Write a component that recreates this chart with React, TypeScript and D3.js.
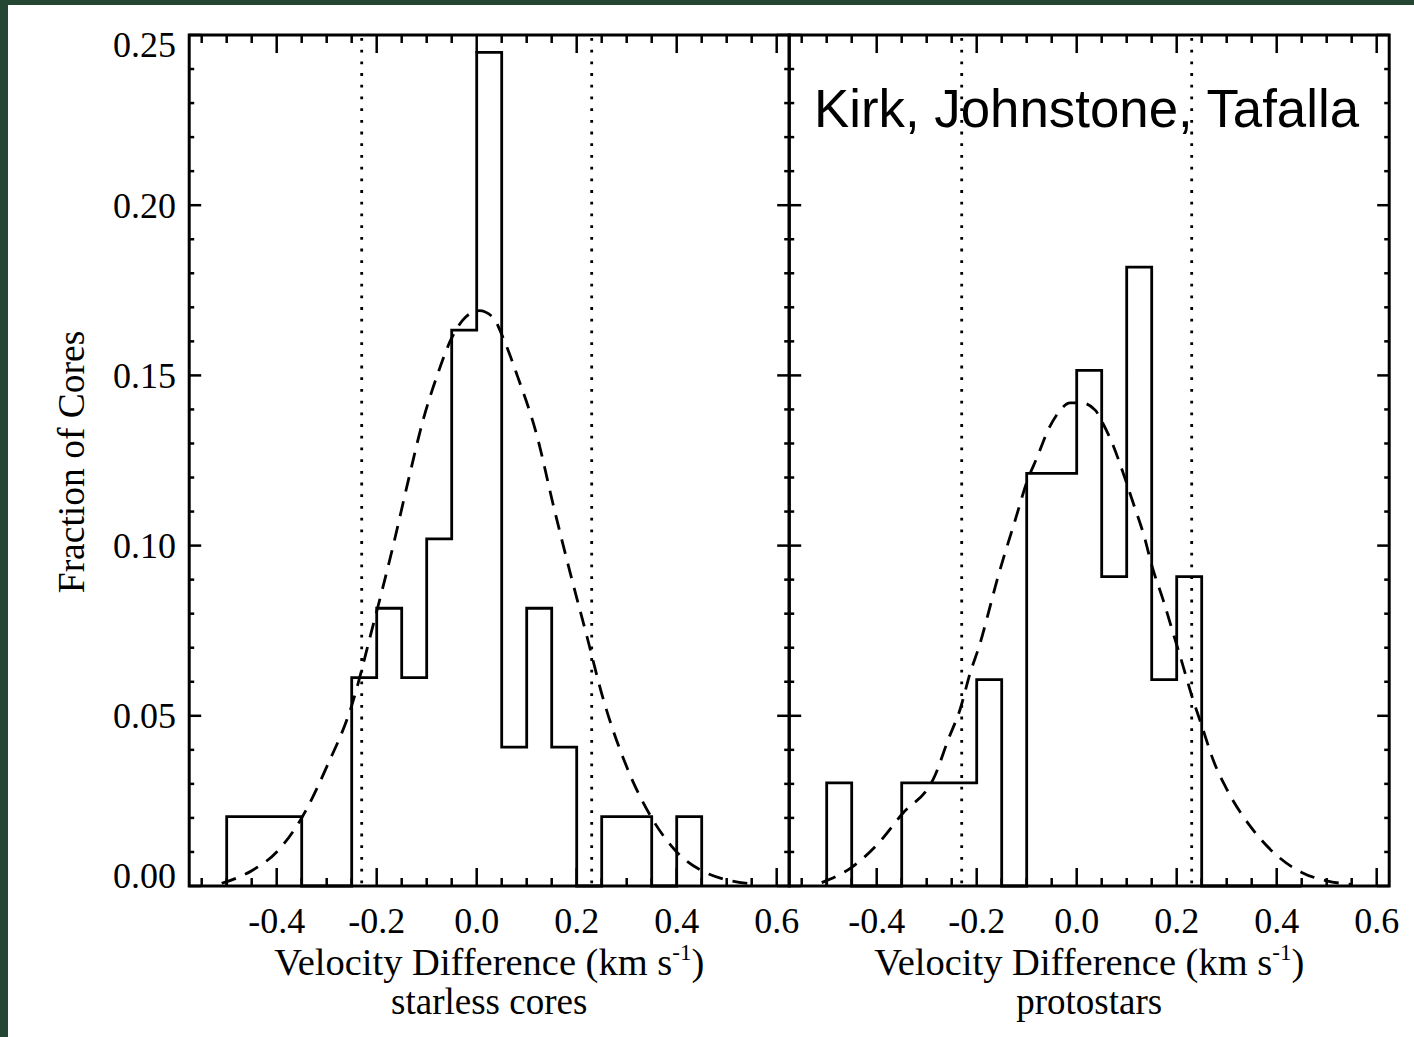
import React from "react";
import * as d3 from "d3";

// ---------- data ----------
const binWidth = 0.05;
const binLefts = [-0.5, -0.45, -0.4, -0.35, -0.3, -0.25, -0.2, -0.15, -0.1, -0.05, 0.0, 0.05, 0.1, 0.15, 0.2, 0.25, 0.3, 0.35, 0.4];
const starlessFrac = [0.0204, 0.0204, 0.0204, 0, 0, 0.0612, 0.0816, 0.0612, 0.102, 0.1633, 0.2449, 0.0408, 0.0816, 0.0408, 0, 0.0204, 0.0204, 0, 0.0204];
const protostarFrac = [0.0303, 0, 0, 0.0303, 0.0303, 0.0303, 0.0606, 0, 0.1212, 0.1212, 0.1515, 0.0909, 0.1818, 0.0606, 0.0909, 0, 0, 0, 0];

const starlessFitX = [-0.51, -0.45, -0.4, -0.35, -0.3, -0.25, -0.21, -0.167, -0.137, -0.107, -0.079, -0.05, -0.023, 0.005, 0.033, 0.053, 0.081, 0.121, 0.153, 0.187, 0.221, 0.251, 0.3, 0.35, 0.4, 0.45, 0.5, 0.55];
const starlessFitY = [0.0008, 0.0045, 0.01, 0.02, 0.035, 0.053, 0.075, 0.1, 0.119, 0.137, 0.15, 0.161, 0.167, 0.169, 0.167, 0.161, 0.15, 0.132, 0.112, 0.092, 0.073, 0.056, 0.035, 0.02, 0.01, 0.0045, 0.0018, 0.0006];

const protoFitX = [-0.51, -0.45, -0.4, -0.35, -0.283, -0.257, -0.233, -0.213, -0.193, -0.177, -0.159, -0.143, -0.123, -0.099, -0.079, -0.057, -0.037, -0.013, 0.01, 0.037, 0.051, 0.071, 0.093, 0.113, 0.133, 0.153, 0.173, 0.191, 0.211, 0.231, 0.251, 0.273, 0.301, 0.35, 0.4, 0.45, 0.5, 0.55];
const protoFitY = [0.001, 0.0055, 0.012, 0.021, 0.0326, 0.043, 0.052, 0.0626, 0.0714, 0.08, 0.09, 0.098, 0.1075, 0.119, 0.126, 0.134, 0.139, 0.1419, 0.1419, 0.1398, 0.1363, 0.1301, 0.1213, 0.1125, 0.1037, 0.0928, 0.084, 0.0752, 0.0655, 0.0555, 0.0467, 0.037, 0.0282, 0.017, 0.009, 0.004, 0.0015, 0.0005];

const sigmaLines = [-0.23, 0.23];

const xMajorTicks = [-0.4, -0.2, 0.0, 0.2, 0.4, 0.6];
const xTickLabels = ["-0.4", "-0.2", "0.0", "0.2", "0.4", "0.6"];
const yMajorTicks = [0, 0.05, 0.1, 0.15, 0.2, 0.25];
const yTickLabels = ["0.00", "0.05", "0.10", "0.15", "0.20", "0.25"];
const panelNames = ["starless cores", "protostars"];

// ---------- layout ----------
const W = 1414;
const H = 1037;
const TOP = 35;
const BOTTOM = 886;
const LEFT0 = 189.2;
const PW = 600;
const xDomain: [number, number] = [-0.575, 0.625];
const SERIF = "'Liberation Serif', 'Times New Roman', serif";
const SANS = "'Liberation Sans', Arial, sans-serif";

const y = d3.scaleLinear().domain([0, 0.25]).range([BOTTOM, TOP]);
const xMinor = d3.range(-11, 13).map((i) => i * 0.05);
const yMinor = d3.range(0, 26).map((i) => i * 0.01);

function histPath(x: d3.ScaleLinear<number, number>, vals: number[]) {
  const p = d3.path();
  p.moveTo(x(binLefts[0]), y(0));
  vals.forEach((v, i) => {
    p.lineTo(x(binLefts[i]), y(v));
    p.lineTo(x(binLefts[i] + binWidth), y(v));
  });
  p.lineTo(x(binLefts[vals.length - 1] + binWidth), y(0));
  return p.toString();
}

function Panel({ idx, vals, fx, fy }: { idx: number; vals: number[]; fx: number[]; fy: number[] }) {
  const x0 = LEFT0 + idx * PW;
  const x = d3.scaleLinear().domain(xDomain).range([x0, x0 + PW]);
  const line = d3
    .line<number>()
    .x((d, i) => x(fx[i]))
    .y((d) => y(d))
    .curve(d3.curveMonotoneX);
  const cx = x0 + PW / 2;
  const ticks: JSX.Element[] = [];
  xMinor.forEach((t, i) => {
    if (x(t) < x0 + 1 || x(t) > x0 + PW - 1) return;
    const major = xMajorTicks.some((m) => Math.abs(m - t) < 1e-6);
    const len = major ? 18 : 8;
    ticks.push(<line key={"b" + i} x1={x(t)} x2={x(t)} y1={BOTTOM} y2={BOTTOM - len} />);
    ticks.push(<line key={"t" + i} x1={x(t)} x2={x(t)} y1={TOP} y2={TOP + len} />);
  });
  yMinor.forEach((t, i) => {
    const major = yMajorTicks.some((m) => Math.abs(m - t) < 1e-6);
    const len = major ? 12 : 5;
    ticks.push(<line key={"l" + i} x1={x0} x2={x0 + len} y1={y(t)} y2={y(t)} />);
    ticks.push(<line key={"r" + i} x1={x0 + PW} x2={x0 + PW - len} y1={y(t)} y2={y(t)} />);
  });
  return (
    <g>
      {sigmaLines.map((s, i) => (
        <line key={i} x1={x(s)} x2={x(s)} y1={TOP + 3} y2={BOTTOM} stroke="#000" strokeWidth={2.8} strokeDasharray="2.8 8.9" />
      ))}
      <path d={line(fy) || ""} fill="none" stroke="#000" strokeWidth={2.8} strokeDasharray="15 10" />
      <path d={histPath(x, vals)} fill="none" stroke="#000" strokeWidth={2.8} strokeLinejoin="miter" />
      <g stroke="#000" strokeWidth={2.5}>{ticks}</g>
      <rect x={x0} y={TOP} width={PW} height={BOTTOM - TOP} fill="none" stroke="#000" strokeWidth={3} />
      {xMajorTicks.map((t, i) => (
        <text key={i} x={x(t)} y={933} textAnchor="middle" fontFamily={SERIF} fontSize={36} fill="#000">
          {xTickLabels[i]}
        </text>
      ))}
      <text x={cx} y={975} textAnchor="middle" fontFamily={SERIF} fontSize={38.5} fill="#000">
        Velocity Difference (km s
        <tspan fontSize={23} dy={-15}>-1</tspan>
        <tspan dy={15}>)</tspan>
      </text>
      <text x={cx} y={1014} textAnchor="middle" fontFamily={SERIF} fontSize={37} fill="#000">
        {panelNames[idx]}
      </text>
    </g>
  );
}

export default function App() {
  return (
    <svg width={W} height={H} style={{ position: "absolute", left: 0, top: 0, background: "#fff" }}>
      <rect x={0} y={0} width={W} height={H} fill="#fff" />
      <rect x={0} y={0} width={W} height={5} fill="#264634" />
      <rect x={0} y={0} width={8} height={H} fill="#264634" />
      <Panel idx={0} vals={starlessFrac} fx={starlessFitX} fy={starlessFitY} />
      <Panel idx={1} vals={protostarFrac} fx={protoFitX} fy={protoFitY} />
      {yMajorTicks.map((t, i) => {
        const off = i === yMajorTicks.length - 1 ? 22 : i === 0 ? 2 : 12.5;
        return (
          <text key={i} x={176} y={y(t) + off} textAnchor="end" fontFamily={SERIF} fontSize={36} fill="#000">
            {yTickLabels[i]}
          </text>
        );
      })}
      <text transform={`translate(84,462) rotate(-90)`} textAnchor="middle" fontFamily={SERIF} fontSize={37.5} fill="#000">
        Fraction of Cores
      </text>
      <text x={1359} y={127} textAnchor="end" fontFamily={SANS} fontSize={52.8} fill="#000">
        Kirk, Johnstone, Tafalla
      </text>
    </svg>
  );
}
